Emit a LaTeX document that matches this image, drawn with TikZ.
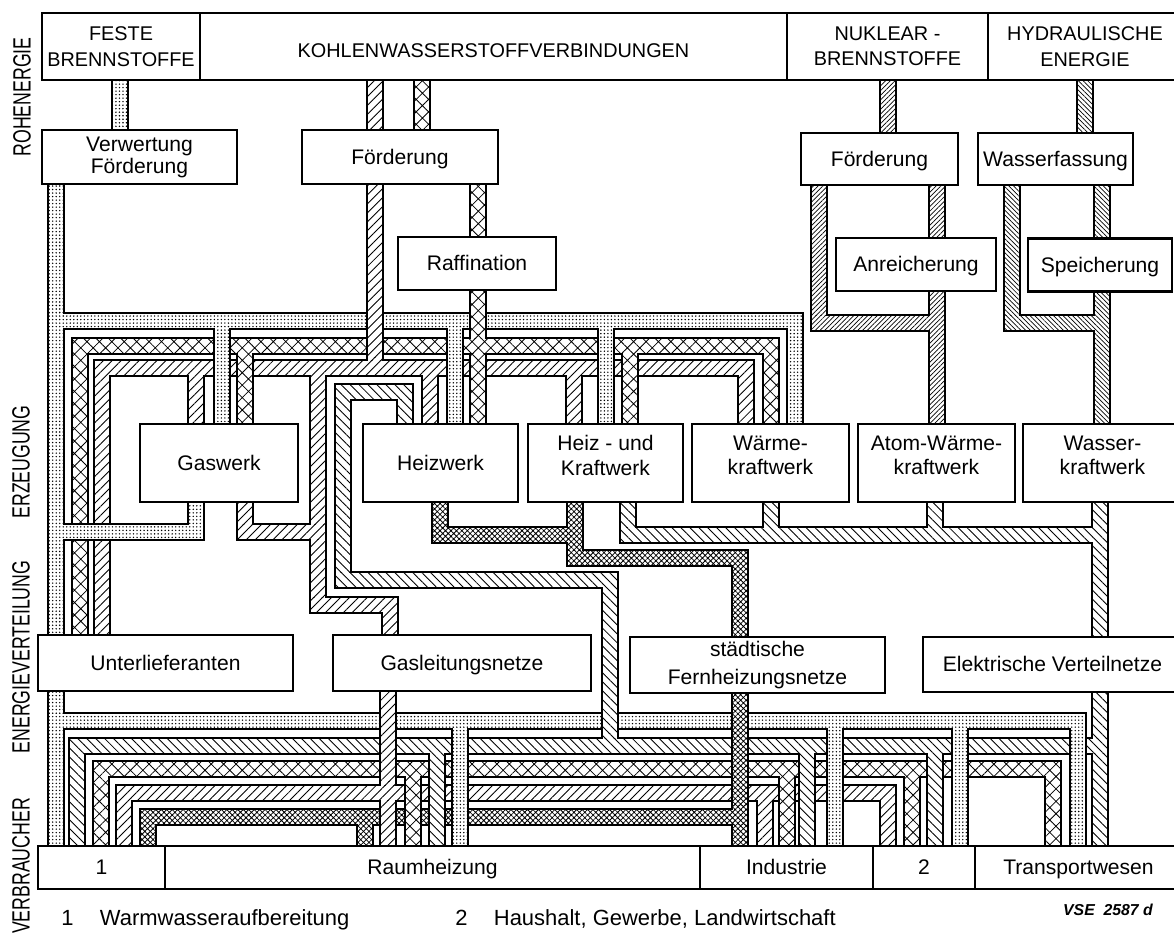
\documentclass[tikz,border=0pt]{standalone}
\usepackage{graphicx}
\usepackage{fontspec}
\setmainfont{Liberation Sans}
\usetikzlibrary{patterns.meta}

\tikzset{
  kohle/.style={pattern={Dots[distance=2pt,radius=0.45pt]}},
  oel/.style={pattern={Hatch[angle=45,distance=5pt,line width=0.45pt]}},
  gasp/.style={pattern={Lines[angle=45,distance=3.6pt,line width=0.5pt]}},
  strom/.style={pattern={Lines[angle=-45,distance=3.6pt,line width=0.5pt]}},
  fern/.style={pattern={Hatch[angle=45,distance=2.2pt,line width=0.45pt]}},
  nuk/.style={pattern={Lines[angle=45,distance=1.9pt,line width=0.4pt]}},
  hydro/.style={pattern={Lines[angle=-45,distance=1.9pt,line width=0.4pt]}}
}

\newcommand{\rohr}[2]{%
  \foreach \xa/\ya/\xb/\yb in {#2}
    \fill[black] ({min(\xa,\xb)-8.6},{min(\ya,\yb)-8.6}) rectangle ({max(\xa,\xb)+8.6},{max(\ya,\yb)+8.6});
  \foreach \xa/\ya/\xb/\yb in {#2}{
    \fill[white] ({min(\xa,\xb)-7.3},{min(\ya,\yb)-7.3}) rectangle ({max(\xa,\xb)+7.3},{max(\ya,\yb)+7.3});
    \fill[#1] ({min(\xa,\xb)-7.3},{min(\ya,\yb)-7.3}) rectangle ({max(\xa,\xb)+7.3},{max(\ya,\yb)+7.3});
  }%
}
\newcommand{\bruecke}[4]{%
  \fill[black] ({#2-8.6},#3) rectangle ({#2+8.6},#4);
  \fill[white] ({#2-7.3},#3) rectangle ({#2+7.3},#4);
  \fill[#1] ({#2-7.3},#3) rectangle ({#2+7.3},#4);
}

\begin{document}
\begin{tikzpicture}[x=0.02cm, y=-0.02cm,
    box/.style={draw, line width=1.6pt, fill=white, align=center, inner sep=1pt, font=\fontsize{12}{14}\selectfont},
    eins/.style={box, text height=8.6pt, text depth=0.6pt},
    head/.style={box, font=\fontsize{11.3}{14.5}\selectfont},
    seite/.style={rotate=90, inner sep=0pt, font=\fontsize{14.2}{14}\selectfont},
    fuss/.style={anchor=base west, inner sep=0pt, font=\fontsize{12.5}{14}\selectfont}]
\useasboundingbox (0,0) rectangle (1174,938);

\rohr{fern}{440/501/440/535, 440/535/575/535, 575/501/575/558, 575/558/740/558, 740/558/740/637,
  740/693/740/846, 148/817/740/817, 148/817/148/846, 365/817/365/846}
\rohr{gasp}{375/80/375/130, 375/184/375/368, 102/368/746/368, 102/368/102/635,
  196/368/196/424, 430/368/430/424, 574/368/574/424, 746/368/746/424,
  318/368/318/605, 318/605/390/605, 390/605/390/635, 245/501/245/532, 245/532/318/532,
  388/690/388/846, 124/793/888/793, 124/793/124/846, 765/793/765/846, 888/793/888/846}
\rohr{oel}{422/80/422/130, 478/184/478/237, 478/290/478/424, 80/346/771/346, 80/346/80/635,
  245/346/245/424, 630/346/630/424, 771/346/771/424,
  101/769/1053/769, 101/769/101/846, 413/769/413/846, 787/769/787/846, 912/769/912/846, 1053/769/1053/846}
\rohr{strom}{405/392/405/424, 343/392/405/392, 343/392/343/580, 343/580/610/580, 610/580/610/746,
  628/501/628/535, 628/535/1100/535, 771/501/771/535, 935/503/935/535, 1100/503/1100/637,
  1100/692/1100/846, 77/746/1100/746, 77/746/77/846, 437/746/437/846, 807/746/807/846, 935/746/935/846}
\rohr{kohle}{120/80/120/130, 56/184/56/635, 56/690/56/846, 56/321/795/321,
  222/321/222/424, 455/321/455/424, 606/321/606/424, 795/321/795/424,
  196/501/196/532, 56/532/196/532,
  56/721/1078/721, 460/721/460/846, 835/721/835/846, 960/721/960/846, 1078/721/1078/846}
\bruecke{gasp}{375}{300}{357}
\bruecke{oel}{478}{300}{334}
\bruecke{strom}{610}{700}{733}
\bruecke{gasp}{388}{700}{781}
\bruecke{fern}{740}{700}{805}
\rohr{nuk}{888/80/888/133, 819/185/819/323, 819/323/937/323, 937/185/937/238, 937/290/937/426}
\rohr{hydro}{1085/80/1085/133, 1012/185/1012/323, 1012/323/1102/323, 1102/185/1102/238, 1102/292/1102/426}

\node[head, minimum width=3.16cm, minimum height=1.34cm] (feste) at (121,46.5) {FESTE\\BRENNSTOFFE};
\node[head, text height=12.2pt, text depth=0pt, minimum width=11.74cm, minimum height=1.34cm] (kws) at (493.5,46.5) {KOHLENWASSERSTOFFVERBINDUNGEN};
\node[head, minimum width=4.02cm, minimum height=1.34cm] (nuklear) at (887.5,46.5) {NUKLEAR -\\BRENNSTOFFE};
\node[head, minimum width=3.88cm, minimum height=1.34cm] (hydraulik) at (1085,46.5) {HYDRAULISCHE\\ENERGIE};

\node[box, minimum width=3.9cm, minimum height=1.08cm, font=\fontsize{12}{12.5}\selectfont] (verwertung) at (139.5,157) {Verwertung\\Förderung};
\node[eins, minimum width=3.92cm, minimum height=1.08cm] (foerderung) at (400,157) {Förderung};
\node[eins, minimum width=3.14cm, minimum height=1.04cm] (nfoerderung) at (879.5,159) {Förderung};
\node[eins, minimum width=3.1cm, minimum height=1.04cm] (wasserfassung) at (1055.5,159) {Wasserfassung};
\node[eins, minimum width=3.16cm, minimum height=1.06cm] (raffination) at (477,263.5) {Raffination};
\node[eins, minimum width=3.2cm, minimum height=1.06cm] (anreicherung) at (916,264.5) {Anreicherung};
\node[eins, minimum width=2.88cm, minimum height=1.06cm] (speicherung) at (1100,265) {Speicherung};

\node[eins, minimum width=3.16cm, minimum height=1.56cm] (gaswerk) at (219,463) {Gaswerk};
\node[eins, minimum width=3.1cm, minimum height=1.56cm] (heizwerk) at (440.5,463) {Heizwerk};
\node[box, minimum width=3.1cm, minimum height=1.56cm] (hkw) at (605.5,463) {Heiz - und\\Kraftwerk\\[-5pt]\mbox{}};
\node[box, minimum width=3.14cm, minimum height=1.56cm] (wkw) at (770.5,463) {Wärme-\\kraftwerk\\[-5pt]\mbox{}};
\node[box, minimum width=3.14cm, minimum height=1.56cm] (akw) at (936.5,463) {Atom-Wärme-\\kraftwerk\\[-5pt]\mbox{}};
\node[box, minimum width=3.18cm, minimum height=1.56cm] (wasserkw) at (1102.5,463) {Wasser-\\kraftwerk\\[-5pt]\mbox{}};

\node[eins, minimum width=5.1cm, minimum height=1.12cm] (unterlief) at (165.5,663) {Unterlieferanten};
\node[eins, minimum width=5.16cm, minimum height=1.12cm] (gasnetz) at (462,663) {Gasleitungsnetze};
\node[box, minimum width=5.1cm, minimum height=1.12cm, font=\fontsize{12}{16}\selectfont] (fernheiz) at (757.5,665) {städtische\\Fernheizungsnetze};
\node[eins, minimum width=5.18cm, minimum height=1.1cm] (elnetz) at (1052.5,664.5) {Elektrische Verteilnetze};

\node[eins, minimum width=2.54cm, minimum height=0.86cm] (v1) at (101.5,867.5) {1};
\node[eins, minimum width=10.7cm, minimum height=0.86cm] (raumheizung) at (432.5,867.5) {Raumheizung};
\node[eins, minimum width=3.46cm, minimum height=0.86cm] (industrie) at (786.5,867.5) {Industrie};
\node[eins, minimum width=2.04cm, minimum height=0.86cm] (v2) at (924,867.5) {2};
\node[eins, minimum width=4.14cm, minimum height=0.86cm] (transport) at (1078.5,867.5) {Transportwesen};

\node[seite] (rohenergie) at (22,97) {\scalebox{0.71}[1]{ROHENERGIE}};
\node[seite] (erzeugung) at (21,462) {\scalebox{0.71}[1]{ERZEUGUNG}};
\node[seite] (verteilung) at (21,657) {\scalebox{0.71}[1]{ENERGIEVERTEILUNG}};
\node[seite] (verbraucher) at (21,866) {\scalebox{0.71}[1]{VERBRAUCHER}};

\node[fuss] (fussnote1) at (61,925) {1\hspace{15pt}Warmwasseraufbereitung};
\node[fuss] (fussnote2) at (455,925) {2\hspace{15pt}Haushalt, Gewerbe, Landwirtschaft};
\node[anchor=base, inner sep=0pt, font=\fontsize{9}{10}\selectfont\bfseries\itshape] (vse) at (1108,915) {VSE\ \ 2587\ d};
\end{tikzpicture}
\end{document}
